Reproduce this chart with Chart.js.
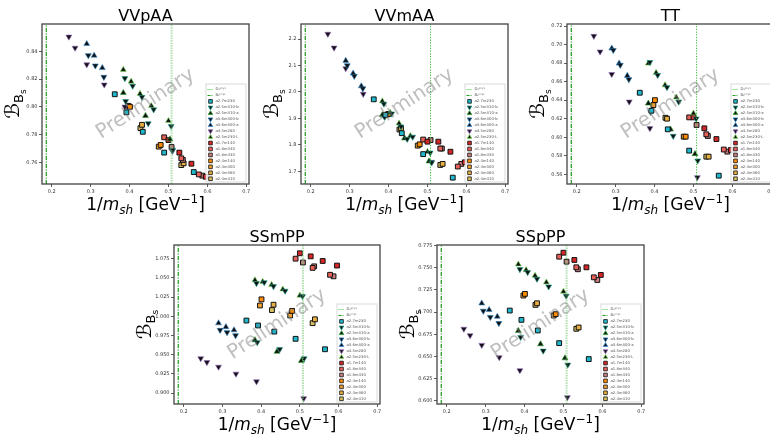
<!DOCTYPE html>
<html>
<head>
<meta charset="utf-8">
<script src="https://cdn.jsdelivr.net/npm/chart.js@4.4.0/dist/chart.umd.min.js"></script>
<style>
  html, body { margin: 0; padding: 0; background: #fff; overflow: hidden; width: 770px; height: 436px; }
  canvas { position: absolute; }
</style>
</head>
<body>
<canvas id="c1"></canvas>
<canvas id="c2"></canvas>
<canvas id="c3"></canvas>
<canvas id="c4"></canvas>
<canvas id="c5"></canvas>
<script>
// ensembles, in legend order
const ensembles = ['a2.7m230', 'a2.5m310-b', 'a2.5m310-a', 'a3.6m300-b', 'a3.6m300-a', 'a4.5m280', 'a2.5m230-L',
                   'a1.7m140', 'a1.8m340', 'a1.8m430', 'a2.4m140', 'a2.4m300', 'a2.4m360', 'a2.4m410'];

// 1/m_sh [GeV^-1] per ensemble
const xInvM = [
    [0.362, 0.392, 0.434, 0.489, 0.565],
    [0.388, 0.408, 0.432, 0.462, 0.507, 0.390, 0.448, 0.511],
    [0.384, 0.441, 0.504],
    [0.294, 0.312, 0.334],
    [0.290, 0.309, 0.330],
    [0.244, 0.260, 0.290, 0.335, 0.388, 0.510],
    [0.384, 0.404, 0.427, 0.456, 0.500],
    [0.500, 0.528, 0.559, 0.596],
    [0.489, 0.533, 0.578],
    [0.508, 0.537, 0.587],
    [0.401, 0.480],
    [0.397, 0.475],
    [0.432, 0.539],
    [0.428, 0.533]
];

// B_Bs values, one list per ensemble
const yVVpAA = [
    [0.809, 0.796, 0.782, 0.767, 0.753],
    [0.8205, 0.815, 0.807, 0.798, 0.786, 0.804, 0.788, 0.769],
    [0.810, 0.7935, 0.7766],
    [0.837, 0.8296, 0.8214],
    [0.8453, 0.8369, 0.828],
    [0.8504, 0.8424, 0.8304, 0.8159, 0.800, 0.768],
    [0.8267, 0.8182, 0.8094, 0.8007, 0.7899],
    [0.776, 0.767, 0.759, 0.7496],
    [0.778, 0.7629, 0.7513],
    [0.771, 0.7617, 0.7504],
    [0.800, 0.7725],
    [0.8007, 0.7713],
    [0.787, 0.7593],
    [0.7846, 0.758]
];
const yVVmAA = [
    [1.972, 1.913, 1.844, 1.765, 1.676],
    [1.955, 1.918, 1.869, 1.830, 1.770, 1.905, 1.822, 1.733],
    [1.913, 1.825, 1.738],
    [2.100, 2.060, 2.013],
    [2.118, 2.070, 2.022],
    [2.219, 2.167, 2.089, 1.992, 1.910, 1.735],
    [1.965, 1.922, 1.881, 1.834, 1.774],
    [1.812, 1.812, 1.774, 1.734],
    [1.820, 1.786, 1.718],
    [1.818, 1.786, 1.728],
    [1.917, 1.802],
    [1.915, 1.797],
    [1.862, 1.728],
    [1.858, 1.724]
];
const yTT = [
    [0.648, 0.6286, 0.6085, 0.5855, 0.5585],
    [0.681, 0.667, 0.6538, 0.6383, 0.620, 0.627, 0.6013, 0.5747],
    [0.6365, 0.6085, 0.5819],
    [0.694, 0.6779, 0.6624],
    [0.6959, 0.6797, 0.6664],
    [0.7092, 0.6923, 0.668, 0.6383, 0.6096, 0.5567],
    [0.6797, 0.6696, 0.6563, 0.643, 0.6258],
    [0.6214, 0.6096, 0.598, 0.5862],
    [0.6214, 0.6031, 0.5867],
    [0.6132, 0.6013, 0.5844],
    [0.640, 0.6006],
    [0.6347, 0.6006],
    [0.620, 0.579],
    [0.621, 0.579]
];
const ySSmPP = [
    [0.9944, 0.988, 0.980, 0.9706, 0.957],
    [1.043, 1.044, 1.039, 1.033, 1.026, 0.966, 0.957, 0.945],
    [0.969, 0.954, 0.942],
    [0.982, 0.979, 0.975],
    [0.991, 0.986, 0.982],
    [0.945, 0.940, 0.934, 0.925, 0.915, 0.893],
    [1.047, 1.045, 1.041, 1.035, 1.027],
    [1.082, 1.078, 1.072, 1.066],
    [1.075, 1.063, 1.054],
    [1.070, 1.065, 1.052],
    [1.022, 1.007],
    [1.014, 1.001],
    [1.015, 0.996],
    [1.008, 0.991]
];
const ySSpPP = [
    [0.7018, 0.6913, 0.6793, 0.665, 0.647],
    [0.7484, 0.745, 0.7375, 0.7288, 0.7183, 0.6718, 0.6564, 0.6406],
    [0.6789, 0.6639, 0.6481],
    [0.7014, 0.6943, 0.6875],
    [0.710, 0.7026, 0.695],
    [0.681, 0.6737, 0.6628, 0.6489, 0.6342, 0.6038],
    [0.754, 0.7476, 0.7412, 0.7337, 0.7232],
    [0.7671, 0.7589, 0.7506, 0.742],
    [0.7626, 0.7506, 0.7393],
    [0.757, 0.7484, 0.7363],
    [0.7206, 0.6977],
    [0.7187, 0.6962],
    [0.710, 0.6827],
    [0.7082, 0.6812]
];

// physical points (vertical lines)
const DS_PHYS = 0.508;
const BS_PHYS = 0.186;

// tick labels
const xTicks = [0.2, 0.3, 0.4, 0.5, 0.6, 0.7];
const ticksVVpAA = [0.76, 0.78, 0.80, 0.82, 0.84];
const ticksVVmAA = [1.7, 1.8, 1.9, 2.0, 2.1, 2.2];
const ticksTT = [0.56, 0.58, 0.60, 0.62, 0.64, 0.66, 0.68, 0.70, 0.72];
const ticksSSmPP = [0.900, 0.925, 0.950, 0.975, 1.000, 1.025, 1.050, 1.075];
const ticksSSpPP = [0.600, 0.625, 0.650, 0.675, 0.700, 0.725, 0.750, 0.775];

// marker styles
const ensColors = ['#1fb8cc', '#1a9e8a', '#2ca02c', '#1f77b4', '#3b8fd8', '#9467bd', '#7ee05a',
                   '#d62728', '#e8605a', '#c98080', '#ff8c00', '#f0a030', '#e8b040', '#d8c060'];
const ensShapes = ['rect', 'down', 'up', 'down', 'up', 'down', 'up',
                   'rect', 'rect', 'rect', 'rect', 'rect', 'rect', 'rect'];

const FONT = 'DejaVu Sans';
const X_MIN = 0.175, X_MAX = 0.707;

// D_s line looks pale/wide in some panels, thin dotted in others
const dsPale = { color: 'rgba(110,200,110,0.55)', width: 2, dash: [1.5, 1] };
const dsThin = { color: '#33bb33', width: 1, dash: [1.2, 1.5] };

const panels = [
    { id: 'c1', title: 'VVpAA', ys: yVVpAA, ticks: ticksVVpAA, dec: 2, ymin: 0.7444, ymax: 0.8596, ds: dsPale,
      cv: { l: 0, t: 0, w: 260, h: 218 }, box: { l: 42, r: 249, t: 24, b: 184 } },
    { id: 'c2', title: 'VVmAA', ys: yVVmAA, ticks: ticksVVmAA, dec: 1, ymin: 1.652, ymax: 2.2567, ds: dsThin,
      cv: { l: 260, t: 0, w: 260, h: 218 }, box: { l: 301, r: 508, t: 24, b: 184 } },
    { id: 'c3', title: 'TT', ys: yTT, ticks: ticksTT, dec: 2, ymin: 0.5495, ymax: 0.7222, ds: dsThin,
      cv: { l: 520, t: 0, w: 260, h: 218 }, box: { l: 567, r: 774, t: 24, b: 184 } },
    { id: 'c4', title: 'SSmPP', ys: ySSmPP, ticks: ticksSSmPP, dec: 3, ymin: 0.8857, ymax: 1.0928, ds: dsPale,
      cv: { l: 130, t: 218, w: 260, h: 218 }, box: { l: 174, r: 380, t: 245, b: 404 } },
    { id: 'c5', title: 'SSpPP', ys: ySSpPP, ticks: ticksSSpPP, dec: 3, ymin: 0.5963, ymax: 0.7758, ds: dsPale,
      cv: { l: 392, t: 218, w: 260, h: 218 }, box: { l: 437, r: 644, t: 245, b: 404 } }
];

function pointOpts(i) {
    const shape = ensShapes[i];
    if (shape === 'rect') {
        return { pointStyle: 'rect', pointRadius: 3.4, pointRotation: 0, pointBackgroundColor: ensColors[i],
                 pointBorderColor: '#111', pointBorderWidth: 1 };
    }
    return { pointStyle: 'triangle', pointRadius: 3.4, pointRotation: shape === 'down' ? 180 : 0,
             pointBackgroundColor: '#111', pointBorderColor: ensColors[i], pointBorderWidth: 0.6 };
}

// draw a run of text pieces centred on x
function drawParts(ctx, parts, x, y) {
    let w = 0;
    parts.forEach(p => { ctx.font = p.f; w += ctx.measureText(p.t).width; });
    let cx = x - w / 2;
    parts.forEach(p => {
        ctx.font = p.f;
        ctx.fillText(p.t, cx, y + (p.dy || 0));
        cx += ctx.measureText(p.t).width;
    });
}

const decorPlugin = {
    id: 'decor',
    afterDatasetsDraw(chart, args, opts) {
        const ctx = chart.ctx;
        const a = chart.chartArea;
        ctx.save();
        // watermark
        ctx.translate((a.left + a.right) / 2, (a.top + a.bottom) / 2);
        ctx.rotate(-33 * Math.PI / 180);
        ctx.font = '20px ' + FONT;
        ctx.fillStyle = 'rgba(128,128,128,0.5)';
        ctx.textAlign = 'center';
        ctx.textBaseline = 'middle';
        ctx.fillText('Preliminary', 0, 0);
        ctx.restore();

        // frame
        ctx.save();
        ctx.strokeStyle = '#444';
        ctx.lineWidth = 1.3;
        ctx.strokeRect(a.left, a.top, a.right - a.left, a.bottom - a.top);
        ctx.restore();

        // legend
        const lw = 40, lh = 98;
        const lx = a.right - 3 - lw, ly = a.bottom - 2 - lh;
        ctx.save();
        ctx.fillStyle = 'rgba(255,255,255,0.85)';
        ctx.strokeStyle = '#d0d0d0';
        ctx.lineWidth = 0.8;
        ctx.fillRect(lx, ly, lw, lh);
        ctx.strokeRect(lx, ly, lw, lh);
        const labels = ['Dₛᵖʰʸˢ', 'Bₛᵖʰʸˢ'].concat(ensembles);
        ctx.textBaseline = 'middle';
        labels.forEach((lab, k) => {
            const ry = ly + 5.5 + k * 5.95;
            if (k < 2) {
                ctx.save();
                ctx.strokeStyle = k === 0 ? '#44cc44' : '#1a9a1a';
                ctx.lineWidth = 1;
                ctx.setLineDash(k === 0 ? [1, 1] : [3, 1, 1, 1]);
                ctx.beginPath();
                ctx.moveTo(lx + 1.5, ry);
                ctx.lineTo(lx + 7.5, ry);
                ctx.stroke();
                ctx.restore();
            } else {
                const i = k - 2;
                const o = pointOpts(i);
                ctx.fillStyle = o.pointBackgroundColor;
                ctx.strokeStyle = o.pointBorderColor;
                Chart.helpers.drawPoint(ctx, { pointStyle: o.pointStyle, radius: 2.6, rotation: o.pointRotation,
                                               borderWidth: o.pointBorderWidth }, lx + 4.5, ry);
            }
            ctx.fillStyle = '#555';
            ctx.font = '3.8px ' + FONT;
            ctx.textAlign = 'left';
            ctx.fillText(lab, lx + 9.5, ry);
        });
        ctx.restore();

        // title and axis labels
        ctx.save();
        ctx.fillStyle = '#000';
        ctx.textAlign = 'left';
        ctx.textBaseline = 'alphabetic';
        const cxm = (a.left + a.right) / 2;
        drawParts(ctx, [{ t: opts.title, f: '16px ' + FONT }], cxm, a.top - 3.5);
        drawParts(ctx, [
            { t: '1/', f: '17px ' + FONT },
            { t: 'm', f: 'italic 17px ' + FONT },
            { t: 'sh', f: 'italic 12px ' + FONT, dy: 3.5 },
            { t: ' [GeV', f: '17px ' + FONT },
            { t: '\u22121', f: '12px ' + FONT, dy: -7 },
            { t: ']', f: '17px ' + FONT }
        ], cxm, a.bottom + 26);
        ctx.translate(a.left - 23, (a.top + a.bottom) / 2);
        ctx.rotate(-Math.PI / 2);
        drawParts(ctx, [
            { t: '\u212C', f: '20px ' + FONT },
            { t: 'B', f: '13px ' + FONT, dy: 3.5 },
            { t: 's', f: '9px ' + FONT, dy: 7 }
        ], 0, 0);
        ctx.restore();
    }
};

panels.forEach(p => {
    const cv = document.getElementById(p.id);
    cv.width = p.cv.w;
    cv.height = p.cv.h;
    cv.style.left = p.cv.l + 'px';
    cv.style.top = p.cv.t + 'px';

    const datasets = [
        { label: 'Ds phys', data: [{ x: DS_PHYS, y: p.ymin }, { x: DS_PHYS, y: p.ymax }], showLine: true,
          borderColor: p.ds.color, borderWidth: p.ds.width, borderDash: p.ds.dash, pointRadius: 0 },
        { label: 'Bs phys', data: [{ x: BS_PHYS, y: p.ymin }, { x: BS_PHYS, y: p.ymax }], showLine: true,
          borderColor: '#1a9a1a', borderWidth: 1.2, borderDash: [4, 1.5, 1, 1.5], pointRadius: 0 }
    ];
    ensembles.forEach((name, i) => {
        datasets.push(Object.assign({
            label: name,
            data: xInvM[i].map((x, j) => ({ x: x, y: p.ys[i][j] })),
            showLine: false
        }, pointOpts(i)));
    });

    const tickFont = { family: FONT, size: 5 };
    new Chart(cv.getContext('2d'), {
        type: 'scatter',
        data: { datasets: datasets },
        options: {
            responsive: false,
            animation: false,
            devicePixelRatio: 1,
            layout: { padding: { left: 0, top: p.box.t - p.cv.t, right: p.cv.l + p.cv.w - p.box.r, bottom: 0 } },
            plugins: { legend: { display: false }, tooltip: { enabled: false }, decor: { title: p.title } },
            scales: {
                x: {
                    type: 'linear', min: X_MIN, max: X_MAX,
                    afterBuildTicks: s => { s.ticks = xTicks.map(v => ({ value: v })); },
                    afterFit: s => { s.height = p.cv.t + p.cv.h - p.box.b; },
                    ticks: { font: tickFont, color: '#333', padding: 1.5, maxRotation: 0,
                             callback: v => v.toFixed(1) },
                    grid: { drawOnChartArea: false, drawTicks: true, tickLength: 3, color: '#333', lineWidth: 0.8 },
                    border: { display: false }
                },
                y: {
                    type: 'linear', min: p.ymin, max: p.ymax,
                    afterBuildTicks: s => { s.ticks = p.ticks.map(v => ({ value: v })); },
                    afterFit: s => { s.width = p.box.l - p.cv.l; },
                    ticks: { font: tickFont, color: '#333', padding: 1.5,
                             callback: v => v.toFixed(p.dec) },
                    grid: { drawOnChartArea: false, drawTicks: true, tickLength: 3, color: '#333', lineWidth: 0.8 },
                    border: { display: false }
                }
            }
        },
        plugins: [decorPlugin]
    });
});
</script>
</body>
</html>
